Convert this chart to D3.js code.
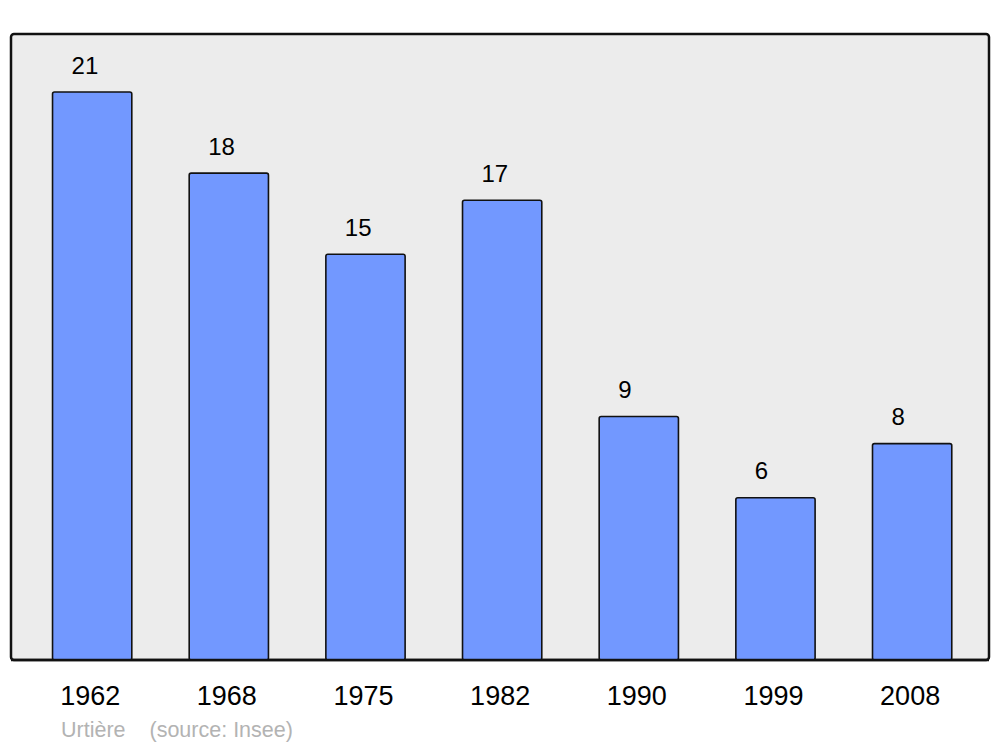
<!DOCTYPE html>
<html>
<head>
<meta charset="utf-8">
<script src="https://cdn.jsdelivr.net/npm/d3@7"></script>
<style>
html,body{margin:0;padding:0;background:#fff;}
svg{display:block;font-family:"Liberation Sans",Arial,sans-serif;}
</style>
</head>
<body>
<svg id="chart" width="1000" height="747"></svg>
<script>
const years = ["1962","1968","1975","1982","1990","1999","2008"];
const population = [21,18,15,17,9,6,8];
const commune = "Urtière";
const source = "(source: Insee)";

const svg = d3.select("#chart");
const frame = {x0: 11, y0: 34, x1: 989, y1: 660};

svg.append("rect")
  .attr("x", frame.x0).attr("y", frame.y0)
  .attr("width", frame.x1 - frame.x0).attr("height", frame.y1 - frame.y0)
  .attr("rx", 3).attr("ry", 3)
  .attr("fill", "#ececec").attr("stroke", "#111").attr("stroke-width", 2.5);

const x = d3.scaleBand().domain(years).range([12.9, 991.4]).paddingInner(0.42).paddingOuter(0.29);
const y = d3.scaleLinear().domain([0, 21]).range([frame.y1, 92]);

const g = svg.append("g");
g.selectAll("rect.bar").data(years).join("rect")
  .attr("class","bar")
  .attr("x", d => x(d))
  .attr("y", (d,i) => y(population[i]))
  .attr("width", x.bandwidth())
  .attr("height", (d,i) => y(0) - y(population[i]))
  .attr("rx", 2).attr("ry", 2)
  .attr("fill", "#7298ff").attr("stroke", "#111").attr("stroke-width", 1.6);

g.selectAll("text.val").data(years).join("text")
  .attr("class","val")
  .attr("x", d => x(d) + 19)
  .attr("y", (d,i) => y(population[i]) - 18.5)
  .attr("text-anchor","start")
  .attr("font-size", 24)
  .attr("fill", "#000")
  .text((d,i) => population[i]);

svg.append("line")
  .attr("x1", frame.x0).attr("x2", frame.x1)
  .attr("y1", frame.y1).attr("y2", frame.y1)
  .attr("stroke", "#111").attr("stroke-width", 2.5);

const xAxis = d3.axisBottom(x).tickSize(0).tickPadding(0);
const ax = svg.append("g").attr("transform", `translate(0,${frame.y1})`).call(xAxis);
ax.select(".domain").remove();
ax.selectAll("text")
  .attr("font-size", 27)
  .attr("font-family", "Liberation Sans, Arial, sans-serif")
  .attr("fill", "#000")
  .attr("dy", null)
  .attr("y", 44.5)
  .attr("dx", -2);

svg.append("text").attr("x", 61).attr("y", 737)
  .attr("font-size", 21.5).attr("fill", "#b3b3b3").text(commune);
svg.append("text").attr("x", 149.5).attr("y", 737)
  .attr("font-size", 21.5).attr("fill", "#b3b3b3").text(source);
</script>
</body>
</html>
